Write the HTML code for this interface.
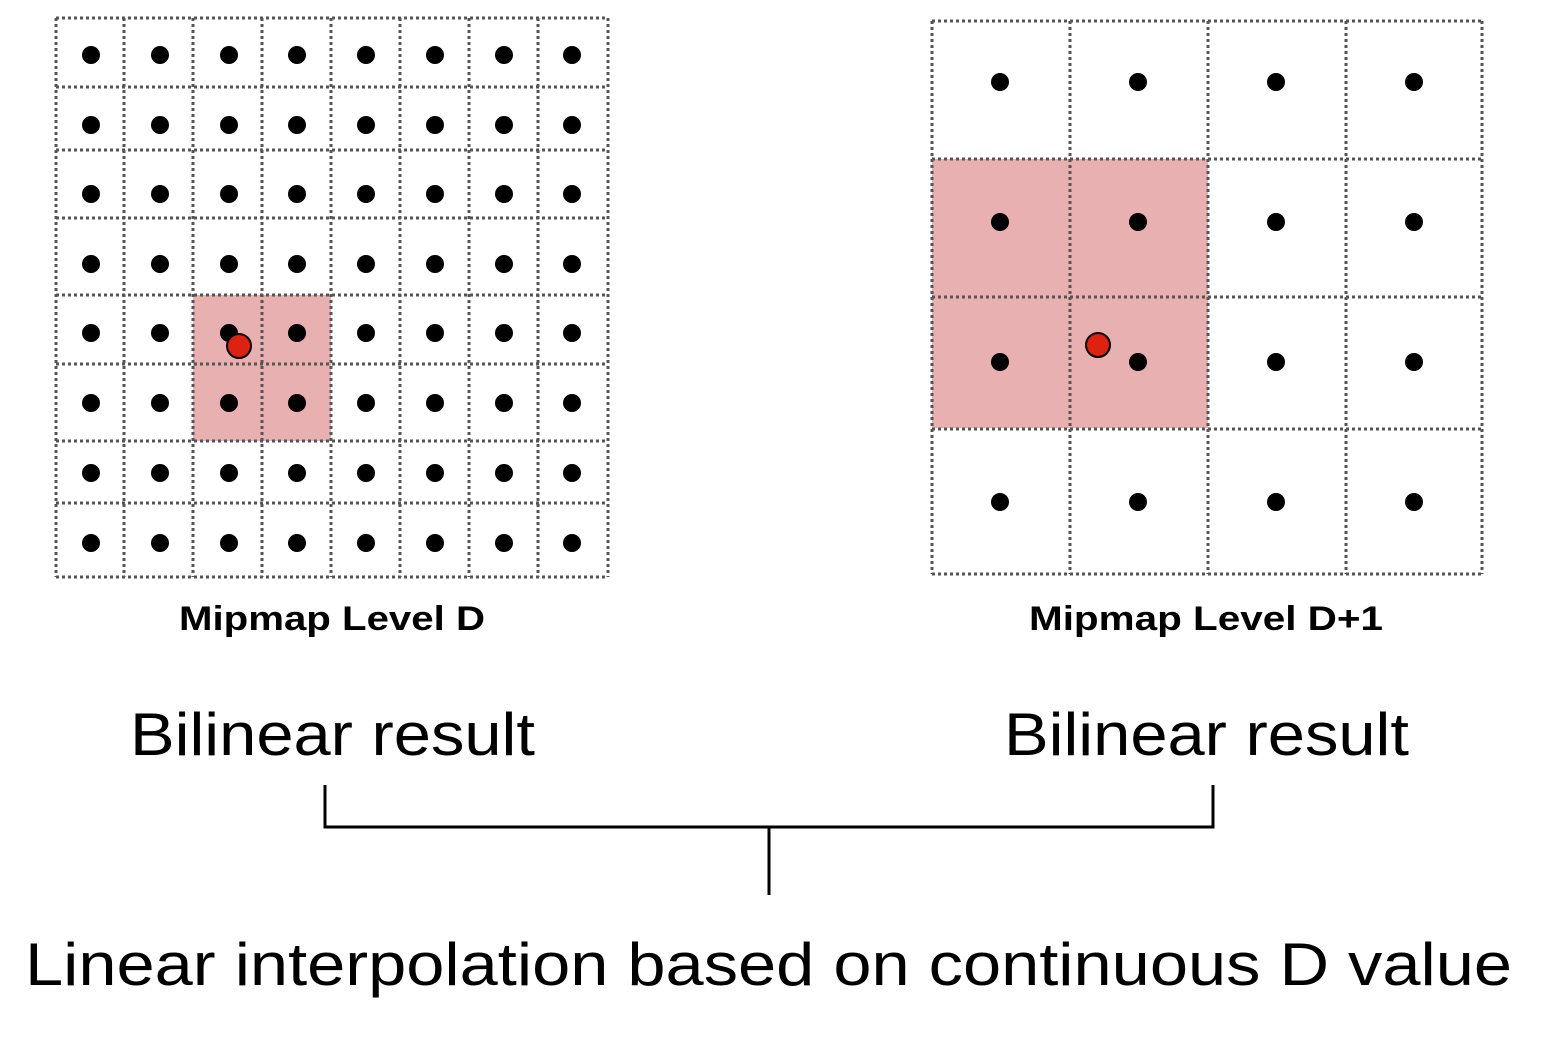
<!DOCTYPE html>
<html><head><style>body{margin:0;background:#fff}</style></head><body>
<svg width="1552" height="1050" xmlns="http://www.w3.org/2000/svg" font-family="Liberation Sans, sans-serif">
<rect x="193" y="295" width="138" height="146" fill="#e8b0b0"/>
<rect x="932" y="159" width="276" height="269" fill="#e8b0b0"/>
<g stroke="#555" stroke-width="3" stroke-dasharray="3,3" fill="none">
<path d="M56 18V577M124 18V577M193 18V577M262 18V577M331 18V577M400 18V577M469 18V577M538 18V577M608 18V577"/>
<path d="M56 18H608M56 87H608M56 150H608M56 218H608M56 295H608M56 364H608M56 441H608M56 503H608M56 577H608"/>
<path d="M932 21V574M1070 21V574M1208 21V574M1346 21V574M1482 21V574"/>
<path d="M932 21H1482M932 159H1482M932 297H1482M932 429H1482M932 574H1482"/>
</g>
<g fill="#000">
<script>/* none */</script>
</g>
<g id="d" fill="#000"></g>
<g fill="#000">
<circle cx="91" cy="55" r="9"/><circle cx="160" cy="55" r="9"/><circle cx="229" cy="55" r="9"/><circle cx="297" cy="55" r="9"/><circle cx="366" cy="55" r="9"/><circle cx="435" cy="55" r="9"/><circle cx="504" cy="55" r="9"/><circle cx="572" cy="55" r="9"/>
<circle cx="91" cy="125" r="9"/><circle cx="160" cy="125" r="9"/><circle cx="229" cy="125" r="9"/><circle cx="297" cy="125" r="9"/><circle cx="366" cy="125" r="9"/><circle cx="435" cy="125" r="9"/><circle cx="504" cy="125" r="9"/><circle cx="572" cy="125" r="9"/>
<circle cx="91" cy="194" r="9"/><circle cx="160" cy="194" r="9"/><circle cx="229" cy="194" r="9"/><circle cx="297" cy="194" r="9"/><circle cx="366" cy="194" r="9"/><circle cx="435" cy="194" r="9"/><circle cx="504" cy="194" r="9"/><circle cx="572" cy="194" r="9"/>
<circle cx="91" cy="264" r="9"/><circle cx="160" cy="264" r="9"/><circle cx="229" cy="264" r="9"/><circle cx="297" cy="264" r="9"/><circle cx="366" cy="264" r="9"/><circle cx="435" cy="264" r="9"/><circle cx="504" cy="264" r="9"/><circle cx="572" cy="264" r="9"/>
<circle cx="91" cy="333" r="9"/><circle cx="160" cy="333" r="9"/><circle cx="229" cy="333" r="9"/><circle cx="297" cy="333" r="9"/><circle cx="366" cy="333" r="9"/><circle cx="435" cy="333" r="9"/><circle cx="504" cy="333" r="9"/><circle cx="572" cy="333" r="9"/>
<circle cx="91" cy="403" r="9"/><circle cx="160" cy="403" r="9"/><circle cx="229" cy="403" r="9"/><circle cx="297" cy="403" r="9"/><circle cx="366" cy="403" r="9"/><circle cx="435" cy="403" r="9"/><circle cx="504" cy="403" r="9"/><circle cx="572" cy="403" r="9"/>
<circle cx="91" cy="473" r="9"/><circle cx="160" cy="473" r="9"/><circle cx="229" cy="473" r="9"/><circle cx="297" cy="473" r="9"/><circle cx="366" cy="473" r="9"/><circle cx="435" cy="473" r="9"/><circle cx="504" cy="473" r="9"/><circle cx="572" cy="473" r="9"/>
<circle cx="91" cy="543" r="9"/><circle cx="160" cy="543" r="9"/><circle cx="229" cy="543" r="9"/><circle cx="297" cy="543" r="9"/><circle cx="366" cy="543" r="9"/><circle cx="435" cy="543" r="9"/><circle cx="504" cy="543" r="9"/><circle cx="572" cy="543" r="9"/>
<circle cx="1000" cy="82" r="9"/><circle cx="1138" cy="82" r="9"/><circle cx="1276" cy="82" r="9"/><circle cx="1414" cy="82" r="9"/>
<circle cx="1000" cy="222" r="9"/><circle cx="1138" cy="222" r="9"/><circle cx="1276" cy="222" r="9"/><circle cx="1414" cy="222" r="9"/>
<circle cx="1000" cy="362" r="9"/><circle cx="1138" cy="362" r="9"/><circle cx="1276" cy="362" r="9"/><circle cx="1414" cy="362" r="9"/>
<circle cx="1000" cy="502" r="9"/><circle cx="1138" cy="502" r="9"/><circle cx="1276" cy="502" r="9"/><circle cx="1414" cy="502" r="9"/>
</g>
<circle cx="239" cy="346" r="12" fill="#dd2211" stroke="#000" stroke-width="2"/>
<circle cx="1098" cy="345" r="12" fill="#dd2211" stroke="#000" stroke-width="2"/>
<g font-weight="bold" font-size="34" text-anchor="middle">
<text x="332" y="630" textLength="306" lengthAdjust="spacingAndGlyphs">Mipmap Level D</text>
<text x="1206" y="630" textLength="354" lengthAdjust="spacingAndGlyphs">Mipmap Level D+1</text>
</g>
<g font-size="60">
<text x="130" y="755" textLength="405" lengthAdjust="spacingAndGlyphs">Bilinear result</text>
<text x="1004" y="755" textLength="405" lengthAdjust="spacingAndGlyphs">Bilinear result</text>
<text x="25" y="985" textLength="1487" lengthAdjust="spacingAndGlyphs">Linear interpolation based on continuous D value</text>
</g>
<path d="M325 785V827H1213V785M769 827V895" stroke="#000" stroke-width="3" fill="none"/>
</svg>
</body></html>
